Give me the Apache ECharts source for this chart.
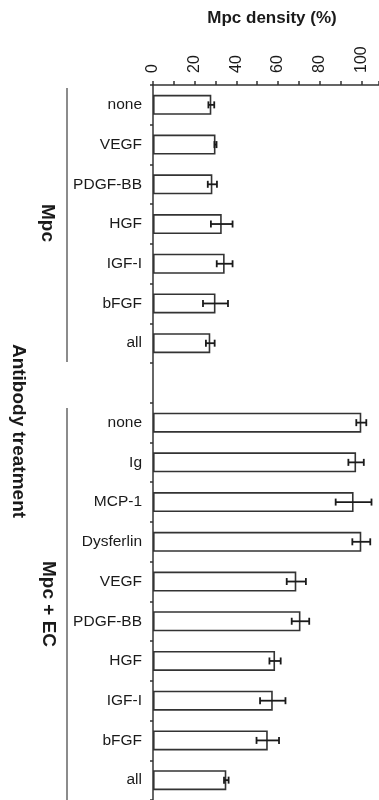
<!DOCTYPE html>
<html>
<head>
<meta charset="utf-8">
<title>Mpc density</title>
<script src="https://cdn.jsdelivr.net/npm/echarts@6/dist/echarts.min.js"></script>
<style>html,body{margin:0;padding:0;background:#fff}</style>
</head>
<body>
<div id="chart" style="width:379px;height:800px;"></div>
<script>
// categories top to bottom, '' is the empty slot between the two groups
var categories = ['none', 'VEGF', 'PDGF-BB', 'HGF', 'IGF-I', 'bFGF', 'all', '',
  'none', 'Ig', 'MCP-1', 'Dysferlin', 'VEGF', 'PDGF-BB', 'HGF', 'IGF-I', 'bFGF', 'all'];

// Mpc alone
var mpcMean = [28, 30, 28.5, 33, 34.4, 30, 27.5];
var mpcErr = [1.4, 0.5, 2.2, 5.2, 3.8, 6, 2.1];
// Mpc + EC
var ecMean = [100, 97.5, 96.3, 100, 68.8, 70.8, 58.6, 57.5, 55.1, 35.2];
var ecErr = [2.4, 3.7, 8.6, 4.3, 4.6, 4.2, 2.7, 6.1, 5.4, 1.1];

var xTicks = [0, 20, 40, 60, 80, 100];

var means = mpcMean.concat(['-'], ecMean);
var errs = mpcErr.concat(['-'], ecErr);
var errData = [];
means.forEach(function (m, i) {
  if (m !== '-') errData.push([i, m, errs[i]]);
});

var ink = '#333';
var font = '"Liberation Sans", Arial, sans-serif';

var chart = echarts.init(document.getElementById('chart'));
chart.setOption({
  animation: false,
  grid: { left: 153, top: 85, width: 226, height: 717 },
  xAxis: {
    type: 'value', position: 'top', min: 0, max: 108.5, interval: 20,
    axisLine: { show: true, lineStyle: { color: ink, width: 1.5 } },
    axisTick: { show: true, length: 4, lineStyle: { color: ink, width: 1.5 } },
    minorTick: { show: true, splitNumber: 2, length: 4, lineStyle: { color: ink, width: 1.5 } },
    splitLine: { show: false },
    axisLabel: {
      rotate: -90, margin: 12, color: '#1a1a1a', fontSize: 16, fontFamily: font,
      formatter: function (v) { return xTicks.indexOf(v) >= 0 ? String(v) : ''; }
    }
  },
  yAxis: {
    type: 'category', inverse: true, data: categories,
    axisLine: { show: true, lineStyle: { color: ink, width: 1.5 } },
    axisTick: { show: true, length: 3, lineStyle: { color: ink, width: 1.5 } },
    axisLabel: { margin: 11, color: '#1a1a1a', fontSize: 15.5, fontFamily: font }
  },
  series: [
    {
      type: 'bar', data: means, barWidth: 20,
      itemStyle: { color: '#fff', borderColor: ink, borderWidth: 1.6 }
    },
    {
      type: 'custom', data: errData, encode: { x: 1, y: 0 }, z: 3,
      renderItem: function (params, api) {
        var y = api.value(0), m = api.value(1), e = api.value(2);
        var lo = api.coord([m - e, y]), hi = api.coord([m + e, y]);
        var h = 3.5, st = { stroke: '#1a1a1a', lineWidth: 1.8 };
        return {
          type: 'group', children: [
            { type: 'line', shape: { x1: lo[0], y1: lo[1], x2: hi[0], y2: hi[1] }, style: st },
            { type: 'line', shape: { x1: lo[0], y1: lo[1] - h, x2: lo[0], y2: lo[1] + h }, style: st },
            { type: 'line', shape: { x1: hi[0], y1: hi[1] - h, x2: hi[0], y2: hi[1] + h }, style: st }
          ]
        };
      }
    }
  ],
  graphic: [
    { type: 'text', x: 272, y: 18, style: { text: 'Mpc density (%)', font: 'bold 17px ' + font, fill: '#1a1a1a', align: 'center', verticalAlign: 'middle' } },
    { type: 'text', x: 18, y: 431, rotation: -Math.PI / 2, style: { text: 'Antibody treatment', font: 'bold 19px ' + font, fill: '#1a1a1a', align: 'center', verticalAlign: 'middle' } },
    { type: 'text', x: 47, y: 223, rotation: -Math.PI / 2, style: { text: 'Mpc', font: 'bold 19px ' + font, fill: '#1a1a1a', align: 'center', verticalAlign: 'middle' } },
    { type: 'text', x: 48, y: 604, rotation: -Math.PI / 2, style: { text: 'Mpc + EC', font: 'bold 19px ' + font, fill: '#1a1a1a', align: 'center', verticalAlign: 'middle' } },
    { type: 'line', shape: { x1: 67, y1: 88, x2: 67, y2: 362 }, style: { stroke: '#666', lineWidth: 1.5 } },
    { type: 'line', shape: { x1: 67, y1: 408, x2: 67, y2: 800 }, style: { stroke: '#666', lineWidth: 1.5 } }
  ]
});
</script>
</body>
</html>
